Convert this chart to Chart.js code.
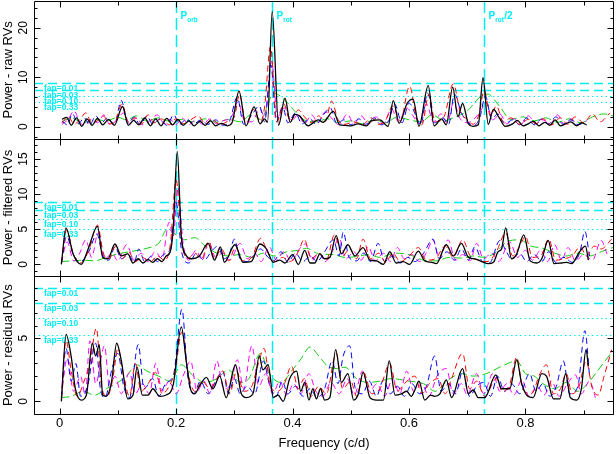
<!DOCTYPE html>
<html lang="en">
<head>
<meta charset="UTF-8">
<title>Periodograms</title>
<script src="https://cdn.jsdelivr.net/npm/chart.js"></script>
<style>
    body { margin: 0; background: #fff; }
    canvas { display: block; }
</style>
</head>
<body>
<canvas id="pgram" width="616" height="454" style="width:616px;height:454px"></canvas>
<script>
// ---- data: [frequency (c/d), power] turning points ----
const rawBlack = [[0.004,1.5],[0.012,1.9],[0.02,0.3],[0.029,1.8],[0.038,0.1],[0.047,1.6],[0.056,0.3],[0.065,1.7],[0.074,0.4],[0.084,1.5],[0.094,0.3],[0.108,4.1],[0.118,0.3],[0.127,1.3],[0.136,0.4],[0.146,1.8],[0.156,0.2],[0.165,1.6],[0.174,0.2],[0.184,1.7],[0.194,0.4],[0.203,1.5],[0.212,0.3],[0.222,1.2],[0.231,0.2],[0.241,1.1],[0.25,0.3],[0.259,1.2],[0.268,0.2],[0.278,0.7],[0.288,0.2],[0.296,0.8],[0.308,7.2],[0.32,0.2],[0.334,4.0],[0.344,0.6],[0.352,1.6],[0.357,0.9],[0.365,23.3],[0.376,0.3],[0.387,5.8],[0.396,0.9],[0.404,2.5],[0.412,2.2],[0.427,0.2],[0.444,1.4],[0.452,0.9],[0.47,3.1],[0.481,0.4],[0.49,0.3],[0.5,0.2],[0.512,0.6],[0.527,0.2],[0.535,1.2],[0.55,1.4],[0.564,0.1],[0.573,5.3],[0.583,0.7],[0.597,4.8],[0.607,5.6],[0.617,0.1],[0.633,8.3],[0.643,0.2],[0.656,1.6],[0.664,0.4],[0.675,8.0],[0.684,2.0],[0.692,4.7],[0.702,0.6],[0.71,0.1],[0.719,0.4],[0.727,9.9],[0.736,0.5],[0.745,3.5],[0.755,1.8],[0.765,0.1],[0.778,0.6],[0.786,1.3],[0.796,0.2],[0.806,0.7],[0.814,1.1],[0.823,0.2],[0.833,0.9],[0.842,0.3],[0.851,1.4],[0.86,0.2],[0.869,0.6],[0.878,1.0],[0.888,0.2],[0.896,0.8],[0.905,0.4]];
const rawRed = [[0.004,0.8],[0.015,2.0],[0.025,0.5],[0.035,1.5],[0.045,2.8],[0.055,0.8],[0.065,1.2],[0.075,2.2],[0.085,0.6],[0.095,1.0],[0.107,4.6],[0.118,1.0],[0.13,1.8],[0.14,0.5],[0.152,2.4],[0.162,0.8],[0.175,1.6],[0.188,0.4],[0.2,1.6],[0.212,0.6],[0.225,1.4],[0.238,2.2],[0.25,0.6],[0.262,1.6],[0.275,0.4],[0.29,1.2],[0.3,2.0],[0.309,6.5],[0.32,0.6],[0.333,3.5],[0.345,1.0],[0.352,4.0],[0.362,16.2],[0.373,1.0],[0.385,4.6],[0.396,1.2],[0.41,3.4],[0.422,1.8],[0.432,0.8],[0.445,2.2],[0.456,1.0],[0.467,5.2],[0.478,1.5],[0.49,0.5],[0.505,1.0],[0.52,0.4],[0.535,1.8],[0.548,0.5],[0.56,1.4],[0.572,4.2],[0.585,1.2],[0.601,8.2],[0.613,1.5],[0.622,0.4],[0.634,6.5],[0.645,1.0],[0.66,2.0],[0.676,8.7],[0.688,3.0],[0.7,1.5],[0.71,0.5],[0.72,2.5],[0.729,7.3],[0.74,2.2],[0.75,4.2],[0.762,1.0],[0.775,1.8],[0.79,0.5],[0.805,1.5],[0.818,0.6],[0.83,1.6],[0.845,0.4],[0.86,1.8],[0.872,0.5],[0.885,2.0],[0.9,0.8],[0.915,2.6],[0.928,1.0],[0.945,2.8]];
const rawBlue = [[0.004,1.2],[0.013,0.4],[0.022,2.6],[0.032,0.6],[0.042,1.8],[0.052,0.4],[0.062,2.2],[0.072,0.8],[0.082,1.8],[0.094,0.5],[0.106,5.3],[0.117,0.6],[0.128,2.0],[0.138,0.4],[0.15,2.2],[0.16,0.5],[0.172,1.6],[0.184,0.3],[0.196,2.4],[0.206,0.5],[0.218,1.6],[0.23,0.6],[0.242,1.3],[0.255,0.5],[0.268,1.4],[0.28,0.3],[0.292,1.2],[0.305,6.0],[0.316,0.5],[0.33,2.4],[0.343,4.2],[0.352,1.0],[0.363,12.5],[0.372,1.0],[0.383,4.0],[0.392,0.8],[0.405,2.8],[0.416,0.6],[0.43,1.6],[0.44,0.5],[0.453,2.4],[0.465,3.8],[0.476,0.6],[0.488,1.4],[0.5,0.4],[0.514,1.6],[0.525,0.5],[0.54,1.8],[0.552,0.4],[0.565,1.2],[0.575,4.6],[0.588,0.8],[0.6,4.8],[0.612,2.2],[0.62,0.4],[0.632,6.8],[0.644,0.8],[0.658,1.8],[0.668,0.5],[0.678,6.6],[0.69,2.8],[0.7,1.0],[0.712,0.3],[0.722,2.0],[0.731,6.2],[0.742,1.5],[0.752,2.6],[0.765,0.6],[0.778,1.4],[0.79,0.4],[0.802,1.8],[0.815,0.4],[0.828,1.6],[0.84,0.6],[0.852,2.0],[0.865,0.5],[0.878,1.4],[0.89,0.4],[0.905,1.2]];
const rawMagenta = [[0.004,0.5],[0.014,1.4],[0.025,3.2],[0.035,0.8],[0.045,0.4],[0.055,1.6],[0.065,0.8],[0.076,2.4],[0.086,0.5],[0.097,1.2],[0.11,2.8],[0.12,0.6],[0.132,1.8],[0.143,0.4],[0.155,1.2],[0.168,2.4],[0.18,0.6],[0.19,1.5],[0.2,0.4],[0.21,1.8],[0.222,0.5],[0.234,1.4],[0.246,0.5],[0.258,1.6],[0.27,0.6],[0.28,1.2],[0.295,2.0],[0.306,5.0],[0.318,1.2],[0.33,1.0],[0.344,3.6],[0.352,2.0],[0.364,13.2],[0.374,2.0],[0.386,3.8],[0.398,1.2],[0.41,2.5],[0.42,0.6],[0.433,2.4],[0.444,0.8],[0.456,3.0],[0.468,1.6],[0.48,0.4],[0.494,2.6],[0.505,0.6],[0.518,2.2],[0.53,0.5],[0.543,2.0],[0.556,0.6],[0.57,3.6],[0.582,1.0],[0.596,3.8],[0.608,2.0],[0.618,0.6],[0.63,4.6],[0.642,1.0],[0.655,2.6],[0.666,0.8],[0.676,4.8],[0.688,1.6],[0.7,0.8],[0.712,1.6],[0.724,3.4],[0.732,5.0],[0.744,1.4],[0.756,2.6],[0.768,0.6],[0.78,1.6],[0.792,0.5],[0.805,2.2],[0.818,0.6],[0.83,1.4],[0.842,0.5],[0.855,2.4],[0.866,0.6],[0.878,1.6],[0.89,0.4],[0.9,1.2]];
const rawGreen = [[0.004,1.0],[0.02,1.8],[0.04,0.8],[0.06,1.5],[0.08,1.2],[0.1,1.9],[0.115,1.4],[0.132,2.2],[0.15,1.2],[0.17,1.8],[0.19,1.1],[0.21,1.5],[0.23,1.0],[0.25,1.6],[0.27,0.9],[0.29,1.5],[0.31,1.0],[0.33,2.5],[0.345,1.5],[0.368,6.8],[0.39,5.0],[0.405,3.0],[0.42,1.4],[0.44,1.0],[0.46,1.6],[0.48,0.8],[0.5,1.2],[0.52,0.6],[0.54,1.4],[0.56,0.8],[0.58,2.0],[0.6,1.4],[0.62,1.0],[0.64,2.4],[0.66,1.2],[0.68,2.0],[0.7,3.2],[0.72,5.8],[0.735,6.6],[0.755,4.2],[0.775,1.5],[0.795,2.0],[0.815,1.2],[0.835,1.8],[0.855,0.9],[0.875,1.6],[0.895,0.8],[0.915,2.0],[0.935,2.6],[0.95,2.2]];

const filBlack = [[0.003,0.0],[0.011,5.2],[0.023,1.5],[0.037,0.0],[0.049,2.2],[0.065,5.4],[0.074,1.0],[0.083,0.8],[0.095,2.9],[0.106,1.2],[0.117,1.5],[0.126,0.2],[0.135,0.8],[0.143,0.2],[0.152,0.7],[0.16,0.3],[0.168,0.8],[0.176,0.4],[0.183,1.2],[0.19,1.8],[0.195,5.0],[0.202,16.1],[0.209,4.0],[0.218,1.2],[0.226,0.8],[0.24,1.2],[0.255,3.0],[0.266,0.6],[0.276,2.5],[0.283,0.3],[0.301,2.8],[0.315,0.3],[0.329,0.4],[0.344,2.9],[0.355,2.2],[0.367,0.3],[0.378,0.6],[0.387,0.2],[0.4,1.4],[0.41,0.0],[0.421,2.0],[0.43,0.2],[0.438,0.2],[0.447,1.5],[0.455,0.8],[0.464,1.0],[0.475,4.1],[0.484,1.5],[0.495,2.8],[0.507,1.2],[0.521,2.4],[0.533,0.6],[0.544,0.5],[0.556,0.0],[0.567,1.8],[0.578,0.2],[0.59,0.4],[0.601,0.0],[0.616,1.9],[0.627,0.5],[0.639,0.3],[0.647,0.1],[0.664,2.8],[0.676,1.2],[0.69,3.0],[0.702,1.0],[0.713,0.8],[0.725,0.4],[0.736,0.1],[0.745,0.3],[0.753,1.8],[0.759,2.2],[0.766,5.2],[0.776,0.8],[0.785,1.5],[0.797,4.2],[0.808,0.5],[0.819,0.2],[0.828,0.8],[0.839,3.4],[0.849,0.1],[0.862,0.2],[0.871,0.3],[0.879,0.1],[0.893,1.8],[0.903,2.6],[0.908,0.6]];
const filRed = [[0.003,0.2],[0.012,4.9],[0.024,1.4],[0.036,0.2],[0.05,2.0],[0.065,5.6],[0.075,1.6],[0.085,0.8],[0.096,2.6],[0.108,0.8],[0.118,1.8],[0.13,0.4],[0.142,1.0],[0.155,0.3],[0.168,1.2],[0.18,0.6],[0.19,2.8],[0.2,12.0],[0.21,3.0],[0.22,0.8],[0.232,1.6],[0.244,0.8],[0.256,3.3],[0.266,0.8],[0.278,2.2],[0.29,0.5],[0.302,2.4],[0.315,0.5],[0.33,1.0],[0.345,3.7],[0.358,1.6],[0.37,0.4],[0.383,1.0],[0.395,0.4],[0.41,1.8],[0.42,3.6],[0.432,0.8],[0.445,1.6],[0.458,0.6],[0.472,4.2],[0.486,1.2],[0.498,2.2],[0.51,0.8],[0.521,3.6],[0.534,0.8],[0.548,1.6],[0.56,0.3],[0.572,1.6],[0.585,0.4],[0.6,1.2],[0.616,2.4],[0.63,0.6],[0.645,0.8],[0.662,2.6],[0.676,1.0],[0.692,3.5],[0.705,1.2],[0.72,0.6],[0.734,0.4],[0.75,1.8],[0.766,4.5],[0.778,1.2],[0.79,2.6],[0.8,4.0],[0.812,1.0],[0.826,1.2],[0.84,3.6],[0.852,0.6],[0.866,0.8],[0.88,1.2],[0.894,2.5],[0.905,1.2],[0.918,2.6],[0.93,2.2],[0.948,3.6]];
const filBlue = [[0.003,0.2],[0.012,4.0],[0.022,1.8],[0.034,0.3],[0.05,1.8],[0.064,4.3],[0.074,1.2],[0.084,0.6],[0.095,2.5],[0.106,0.8],[0.118,1.4],[0.128,0.3],[0.136,2.2],[0.146,0.4],[0.158,1.2],[0.168,0.4],[0.178,1.4],[0.19,2.2],[0.2,8.8],[0.21,1.6],[0.222,0.2],[0.235,1.6],[0.248,0.6],[0.262,2.0],[0.272,2.6],[0.282,0.8],[0.292,1.6],[0.3,3.6],[0.31,0.8],[0.322,0.4],[0.335,1.4],[0.345,2.2],[0.358,1.0],[0.368,0.5],[0.38,1.8],[0.392,0.3],[0.405,1.6],[0.418,0.4],[0.43,1.2],[0.442,0.4],[0.455,1.8],[0.47,3.5],[0.48,1.2],[0.487,4.6],[0.497,1.0],[0.51,0.5],[0.522,1.6],[0.534,0.4],[0.547,3.0],[0.558,0.4],[0.572,1.2],[0.585,0.2],[0.598,1.0],[0.61,0.4],[0.625,1.6],[0.641,3.6],[0.652,0.8],[0.665,1.8],[0.678,0.6],[0.69,2.2],[0.702,0.6],[0.713,2.5],[0.726,0.4],[0.738,0.2],[0.756,3.4],[0.766,2.0],[0.776,0.8],[0.79,1.6],[0.802,0.4],[0.815,1.4],[0.828,0.4],[0.84,1.8],[0.852,0.3],[0.866,1.0],[0.88,0.3],[0.893,1.6],[0.902,4.7],[0.91,1.2]];
const filMagenta = [[0.003,0.3],[0.013,3.2],[0.024,0.5],[0.034,1.5],[0.045,3.5],[0.055,1.0],[0.066,4.5],[0.078,0.8],[0.09,1.6],[0.1,0.5],[0.115,2.8],[0.128,0.6],[0.14,1.6],[0.152,0.4],[0.164,1.8],[0.176,0.8],[0.188,6.0],[0.195,4.0],[0.203,11.0],[0.212,3.0],[0.222,0.6],[0.234,2.0],[0.245,0.6],[0.256,3.2],[0.268,1.0],[0.28,1.6],[0.292,0.6],[0.31,3.0],[0.322,0.8],[0.335,1.6],[0.346,0.4],[0.36,2.5],[0.372,0.6],[0.385,1.8],[0.398,0.4],[0.41,2.0],[0.422,2.9],[0.434,0.6],[0.445,1.6],[0.456,0.4],[0.468,1.8],[0.48,3.7],[0.492,0.8],[0.505,1.8],[0.518,0.6],[0.53,2.5],[0.542,0.5],[0.556,1.6],[0.568,0.4],[0.58,2.4],[0.592,0.8],[0.605,1.4],[0.618,0.4],[0.632,2.0],[0.641,3.5],[0.652,0.8],[0.667,3.5],[0.68,0.6],[0.692,1.4],[0.705,0.5],[0.716,3.0],[0.728,0.8],[0.742,1.6],[0.754,0.4],[0.773,3.2],[0.786,1.0],[0.8,2.0],[0.812,0.6],[0.826,2.0],[0.838,0.4],[0.85,2.8],[0.862,0.6],[0.873,2.4],[0.886,0.5],[0.9,1.4],[0.915,0.6],[0.93,3.4],[0.94,1.5]];
const filGreen = [[0.003,0.4],[0.02,0.5],[0.04,0.6],[0.06,0.5],[0.08,1.0],[0.1,1.5],[0.12,1.8],[0.15,2.3],[0.17,3.0],[0.185,5.0],[0.2,4.2],[0.215,3.5],[0.232,3.8],[0.25,2.6],[0.27,1.6],[0.29,1.2],[0.31,1.4],[0.33,1.0],[0.35,1.6],[0.37,1.2],[0.39,1.8],[0.41,2.0],[0.424,2.3],[0.445,1.5],[0.47,1.4],[0.49,1.0],[0.51,1.1],[0.53,1.4],[0.55,1.0],[0.575,1.6],[0.6,1.4],[0.625,0.6],[0.645,0.5],[0.67,1.0],[0.69,0.9],[0.71,1.2],[0.73,1.0],[0.75,1.8],[0.77,3.3],[0.79,3.5],[0.81,2.6],[0.83,2.3],[0.85,1.6],[0.87,1.2],[0.89,1.6],[0.91,1.2],[0.93,1.8],[0.95,2.4]];

const resBlack = [[0.003,0.0],[0.011,5.3],[0.02,3.5],[0.027,1.0],[0.037,0.1],[0.046,0.5],[0.056,4.6],[0.062,3.6],[0.068,4.5],[0.074,0.5],[0.08,0.4],[0.089,1.5],[0.098,4.6],[0.106,3.2],[0.117,0.2],[0.126,0.5],[0.133,2.7],[0.142,0.5],[0.152,0.5],[0.16,1.0],[0.172,0.4],[0.183,0.5],[0.195,1.3],[0.209,5.9],[0.218,3.0],[0.226,0.8],[0.232,0.6],[0.24,1.2],[0.252,1.9],[0.263,1.0],[0.275,2.0],[0.286,0.3],[0.302,2.9],[0.312,0.6],[0.321,0.3],[0.332,0.6],[0.343,3.6],[0.349,2.5],[0.358,2.9],[0.367,0.3],[0.375,0.5],[0.384,0.0],[0.395,1.8],[0.407,2.4],[0.414,0.8],[0.421,1.5],[0.428,0.1],[0.435,1.0],[0.441,0.2],[0.448,1.0],[0.455,0.1],[0.464,0.3],[0.474,4.1],[0.484,1.5],[0.495,2.2],[0.505,0.1],[0.513,0.6],[0.521,2.3],[0.533,0.3],[0.544,0.1],[0.556,0.1],[0.566,3.2],[0.576,0.5],[0.587,0.6],[0.596,0.8],[0.604,0.4],[0.61,0.9],[0.617,1.6],[0.627,0.1],[0.637,0.5],[0.644,0.4],[0.653,0.6],[0.664,1.7],[0.673,0.3],[0.692,2.6],[0.702,0.6],[0.71,0.9],[0.719,0.3],[0.73,0.3],[0.749,2.1],[0.759,1.0],[0.773,1.0],[0.785,3.3],[0.793,1.5],[0.802,0.5],[0.813,0.3],[0.828,2.2],[0.836,2.0],[0.848,0.2],[0.859,0.2],[0.869,2.2],[0.877,0.3],[0.888,0.1],[0.896,1.0],[0.904,4.1],[0.908,2.8]];
const resRed = [[0.003,0.2],[0.011,4.8],[0.02,2.4],[0.03,0.4],[0.042,1.6],[0.052,3.0],[0.063,5.8],[0.072,1.2],[0.082,0.4],[0.092,2.0],[0.1,4.2],[0.11,2.0],[0.12,0.4],[0.13,3.0],[0.14,0.8],[0.152,1.4],[0.165,2.3],[0.176,0.6],[0.188,1.2],[0.198,2.4],[0.21,5.5],[0.22,2.4],[0.232,0.8],[0.245,1.6],[0.258,1.0],[0.27,1.8],[0.28,2.4],[0.292,0.6],[0.304,2.4],[0.316,0.8],[0.33,1.2],[0.34,2.8],[0.351,4.2],[0.362,1.2],[0.374,0.8],[0.386,1.4],[0.398,2.8],[0.41,1.0],[0.42,1.8],[0.432,0.4],[0.445,1.2],[0.458,0.6],[0.475,3.8],[0.486,1.0],[0.5,1.6],[0.51,0.4],[0.522,2.3],[0.536,0.6],[0.55,1.0],[0.567,3.0],[0.58,0.8],[0.592,1.4],[0.61,2.0],[0.622,0.6],[0.635,1.4],[0.65,1.8],[0.662,0.6],[0.673,1.8],[0.692,3.8],[0.704,1.0],[0.716,1.6],[0.73,0.4],[0.75,1.8],[0.76,0.8],[0.772,1.2],[0.785,3.5],[0.795,1.0],[0.81,0.6],[0.825,2.2],[0.836,2.9],[0.848,0.6],[0.86,1.0],[0.87,2.2],[0.88,0.6],[0.892,1.2],[0.904,3.2],[0.915,1.0],[0.925,0.5],[0.935,2.0],[0.948,4.1]];
const resBlue = [[0.003,0.3],[0.011,4.2],[0.02,1.6],[0.028,3.0],[0.036,0.4],[0.048,1.2],[0.062,4.6],[0.07,1.0],[0.078,0.3],[0.09,2.6],[0.1,3.8],[0.11,1.2],[0.12,0.3],[0.135,4.5],[0.145,1.0],[0.16,1.8],[0.17,0.4],[0.182,1.4],[0.196,2.2],[0.21,7.3],[0.22,2.0],[0.23,0.6],[0.242,1.6],[0.255,0.6],[0.268,1.6],[0.28,2.4],[0.29,0.6],[0.3,1.8],[0.31,0.6],[0.322,1.2],[0.335,0.6],[0.35,3.2],[0.36,1.4],[0.372,0.4],[0.382,1.6],[0.392,0.6],[0.405,1.2],[0.418,0.4],[0.43,1.0],[0.442,0.3],[0.455,1.0],[0.468,3.2],[0.478,1.4],[0.487,3.6],[0.498,4.4],[0.508,1.0],[0.52,0.6],[0.532,1.6],[0.544,0.4],[0.556,1.7],[0.568,0.6],[0.58,1.2],[0.592,0.4],[0.605,1.4],[0.618,0.6],[0.63,1.2],[0.644,3.6],[0.655,0.8],[0.668,1.4],[0.68,0.6],[0.692,2.4],[0.704,0.4],[0.716,1.2],[0.728,1.5],[0.74,0.4],[0.752,2.0],[0.764,0.8],[0.776,1.4],[0.79,0.6],[0.807,2.2],[0.818,0.8],[0.83,1.4],[0.842,0.4],[0.853,1.2],[0.865,3.2],[0.876,0.6],[0.89,1.2],[0.902,5.6],[0.91,2.0]];
const resMagenta = [[0.003,0.4],[0.013,3.4],[0.024,0.8],[0.036,2.0],[0.044,0.5],[0.052,4.8],[0.062,1.4],[0.077,4.4],[0.086,1.0],[0.095,2.0],[0.106,0.6],[0.12,2.3],[0.13,0.6],[0.142,1.4],[0.154,0.6],[0.165,3.0],[0.176,0.8],[0.188,1.6],[0.2,0.6],[0.212,2.0],[0.225,3.2],[0.236,0.8],[0.248,1.6],[0.258,0.6],[0.27,3.2],[0.282,1.0],[0.294,1.4],[0.305,3.3],[0.316,1.0],[0.33,4.4],[0.342,1.2],[0.354,2.2],[0.366,0.6],[0.378,1.6],[0.39,0.5],[0.402,1.4],[0.414,0.6],[0.428,2.2],[0.44,0.8],[0.452,0.4],[0.466,1.5],[0.48,0.6],[0.494,1.8],[0.506,0.5],[0.52,2.4],[0.532,0.8],[0.545,1.4],[0.558,0.4],[0.572,1.8],[0.584,0.6],[0.596,2.4],[0.608,0.8],[0.622,1.4],[0.634,0.4],[0.648,2.0],[0.664,2.6],[0.676,0.6],[0.69,1.4],[0.7,0.5],[0.716,2.2],[0.728,0.6],[0.744,2.2],[0.756,0.8],[0.768,1.4],[0.78,0.5],[0.794,1.7],[0.806,0.4],[0.82,1.2],[0.832,0.5],[0.845,1.6],[0.858,0.4],[0.872,1.4],[0.886,2.1],[0.896,0.6],[0.91,1.6],[0.92,0.3]];
const resGreen = [[0.003,0.3],[0.02,0.4],[0.04,0.8],[0.06,0.5],[0.08,1.0],[0.1,1.5],[0.115,2.0],[0.132,2.9],[0.15,2.4],[0.17,2.0],[0.19,1.6],[0.209,2.9],[0.23,2.0],[0.25,1.5],[0.27,1.8],[0.29,2.5],[0.31,1.5],[0.325,1.8],[0.345,3.8],[0.36,2.2],[0.38,1.5],[0.4,2.5],[0.415,3.4],[0.43,4.3],[0.445,3.6],[0.46,2.8],[0.475,2.6],[0.49,2.7],[0.51,1.8],[0.53,1.5],[0.55,1.6],[0.57,1.8],[0.6,1.6],[0.625,1.4],[0.645,0.8],[0.665,1.6],[0.69,2.2],[0.71,2.0],[0.733,2.2],[0.76,2.8],[0.785,3.2],[0.8,2.2],[0.815,2.0],[0.83,1.4],[0.85,1.0],[0.87,1.5],[0.89,0.8],[0.91,1.6],[0.93,2.8],[0.95,4.0]];

// false-alarm levels (power) per panel
const fapRaw = [8.8, 7.5, 6.3, 5.1];
const fapFiltered = [8.9, 7.7, 6.5, 5.1];
const fapResidual = [8.95, 7.75, 6.57, 5.24];
const fapLabels = ['fap=0.01', 'fap=0.03', 'fap=0.10', 'fap=0.33'];

// marked frequencies (c/d)
const markFreqs = [0.2, 0.3654, 0.729];
const markSubs = ['orb', 'rot', 'rot'];
const markTails = ['', '', '/2'];

// tick labels
const xTickValues = [0, 0.1, 0.2, 0.3, 0.4, 0.5, 0.6, 0.7, 0.8, 0.9];
const rawTicks = [0, 10, 20];
const filteredTicks = [0, 5, 10, 15];
const residualTicks = [0, 5];

const FONT = '"Liberation Sans", Arial, sans-serif';
const CYAN = '#00eef2';
Chart.defaults.font.family = FONT;

const panels = [
    { id: 'yRaw', title: 'Power - raw RVs', min: -2.4, max: 25.4, ticks: rawTicks, minor: 2, major: 10, pad: 3.5,
      fap: fapRaw, series: [rawBlack, rawRed, rawBlue, rawMagenta, rawGreen] },
    { id: 'yFil', title: 'Power - filtered RVs', min: -1.7, max: 17.9, ticks: filteredTicks, minor: 1, major: 5, pad: 3.5,
      fap: fapFiltered, series: [filBlack, filRed, filBlue, filMagenta, filGreen] },
    { id: 'yRes', title: 'Power - residual RVs', min: -1.0, max: 9.9, ticks: residualTicks, minor: 1, major: 5, pad: 6.8,
      fap: fapResidual, series: [resBlack, resRed, resBlue, resMagenta, resGreen] }
];

const looks = [
    { color: '#000000', width: 1.3, dash: [] },
    { color: '#ff0000', width: 1, dash: [6, 4] },
    { color: '#0000ff', width: 1, dash: [6, 4] },
    { color: '#ff00ff', width: 1, dash: [6, 4] },
    { color: '#11cc11', width: 1, dash: [8, 4] }
];

// black first so it ends up on top
const datasets = [];
looks.forEach((look, k) => {
    panels.forEach(p => {
        datasets.push({
            data: p.series[k].map(([x, y]) => ({ x, y })),
            yAxisID: p.id,
            borderColor: look.color,
            borderWidth: look.width,
            borderDash: look.dash,
            pointRadius: 0,
            fill: false,
            cubicInterpolationMode: 'monotone'
        });
    });
});

function yScale(p) {
    return {
        type: 'linear', position: 'left', stack: 'panels', stackWeight: 1,
        min: p.min, max: p.max,
        grid: { display: false, drawTicks: false },
        border: { display: false },
        afterFit: s => { s.width = 34; s.paddingTop = 0; s.paddingBottom = 0; },
        afterBuildTicks: s => { s.ticks = p.ticks.map(v => ({ value: v })); },
        ticks: { minRotation: 90, maxRotation: 90, crossAlign: 'center', padding: p.pad,
                 color: '#000', font: { size: 12 } },
        title: { display: true, text: p.title, color: '#000', font: { size: 13 }, padding: { top: 1, bottom: 0 } }
    };
}

// cyan reference lines and labels, under the curves
const refLines = {
    id: 'refLines',
    beforeDatasetsDraw(chart) {
        const { ctx, chartArea: a, scales } = chart;
        ctx.save();
        ctx.strokeStyle = CYAN;
        ctx.fillStyle = CYAN;
        panels.forEach(p => {
            const y = scales[p.id];
            p.fap.forEach((lev, i) => {
                const py = Math.round(y.getPixelForValue(lev)) + 0.5;
                ctx.lineWidth = i < 2 ? 1.5 : 1;
                ctx.setLineDash(i < 2 ? [9, 5] : [1.5, 3]);
                ctx.beginPath();
                ctx.moveTo(a.left, py);
                ctx.lineTo(a.right, py);
                ctx.stroke();
                ctx.font = 'bold 8.5px ' + FONT;
                ctx.textBaseline = 'middle';
                ctx.fillText(fapLabels[i], a.left + 10, py + 5.5);
            });
        });
        const x = scales.x;
        ctx.lineWidth = 1.5;
        ctx.setLineDash([12, 5]);
        markFreqs.forEach((f, i) => {
            const px = Math.round(x.getPixelForValue(f)) + 0.5;
            ctx.beginPath();
            ctx.moveTo(px, a.top);
            ctx.lineTo(px, a.bottom);
            ctx.stroke();
            let tx = px + 4;
            const base = a.top + 18;
            ctx.textBaseline = 'alphabetic';
            ctx.font = 'bold 10px ' + FONT;
            ctx.fillText('P', tx, base);
            tx += ctx.measureText('P').width;
            ctx.font = 'bold 6.5px ' + FONT;
            ctx.fillText(markSubs[i], tx, base + 2.5);
            tx += ctx.measureText(markSubs[i]).width + 0.5;
            if (markTails[i]) {
                ctx.font = 'bold 10px ' + FONT;
                ctx.fillText(markTails[i], tx, base);
            }
        });
        ctx.restore();
    }
};

// panel frames with inward ticks
const frames = {
    id: 'frames',
    afterDatasetsDraw(chart) {
        const { ctx, chartArea: a, scales } = chart;
        const x = scales.x;
        ctx.save();
        ctx.strokeStyle = '#000';
        ctx.lineWidth = 1;
        ctx.beginPath();
        panels.forEach(p => {
            const y = scales[p.id];
            const top = Math.round(y.top) + 0.5, bot = Math.round(y.bottom) + 0.5;
            const l = Math.round(a.left) + 0.5, r = Math.round(a.right) - 0.5;
            ctx.rect(l, top, r - l, bot - top);
            xTickValues.forEach((v, i) => {
                const px = Math.round(x.getPixelForValue(v)) + 0.5;
                const len = i % 2 === 0 ? 6 : 4;
                ctx.moveTo(px, top); ctx.lineTo(px, top + len);
                ctx.moveTo(px, bot); ctx.lineTo(px, bot - len);
            });
            for (let v = Math.ceil(p.min / p.minor) * p.minor; v <= p.max; v += p.minor) {
                const py = Math.round(y.getPixelForValue(v)) + 0.5;
                const len = Math.abs(v % p.major) < 1e-9 ? 6 : 3;
                ctx.moveTo(l, py); ctx.lineTo(l + len, py);
                ctx.moveTo(r, py); ctx.lineTo(r - len, py);
            }
        });
        ctx.stroke();
        ctx.restore();
    }
};

const scales = {
    x: {
        type: 'linear', min: -0.044, max: 0.952,
        grid: { display: false, drawTicks: false },
        border: { display: false },
        afterFit: s => { s.height = 40; s.paddingLeft = 0; s.paddingRight = 0; },
        afterBuildTicks: s => { s.ticks = xTickValues.map(v => ({ value: v })); },
        ticks: {
            autoSkip: false, maxRotation: 0, padding: 2, color: '#000', font: { size: 13 },
            callback: (v, i) => i % 2 === 0 ? (v === 0 ? '0' : v.toFixed(1)) : ''
        },
        title: { display: true, text: 'Frequency (c/d)', color: '#000', font: { size: 13 }, padding: { top: 3, bottom: 3 } }
    }
};
// left boxes are stacked last-defined on top
scales.yRes = yScale(panels[2]);
scales.yFil = yScale(panels[1]);
scales.yRaw = yScale(panels[0]);

new Chart(document.getElementById('pgram'), {
    type: 'line',
    data: { datasets },
    options: {
        responsive: false,
        animation: false,
        layout: { padding: { top: 1, right: 2, left: 0, bottom: 0 } },
        plugins: { legend: { display: false }, tooltip: { enabled: false } },
        scales
    },
    plugins: [refLines, frames]
});
</script>
</body>
</html>
